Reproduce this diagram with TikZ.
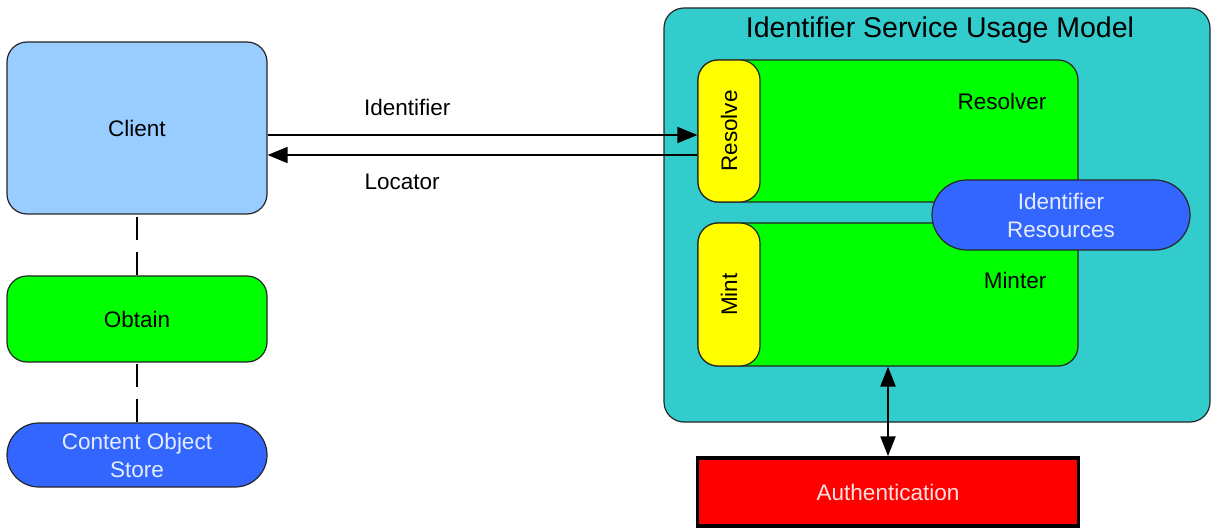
\documentclass[tikz,border=0pt]{standalone}
\usepackage{fontspec}
\setmainfont{Liberation Sans}
\usepackage{graphicx}
\usepackage{tikz}
\usetikzlibrary{arrows.meta}

\definecolor{clientblue}{RGB}{153,204,255}
\definecolor{boxgreen}{RGB}{0,255,0}
\definecolor{tabyellow}{RGB}{255,255,0}
\definecolor{storeblue}{RGB}{51,102,255}
\definecolor{modelteal}{RGB}{51,204,204}
\definecolor{authred}{RGB}{255,0,0}
\definecolor{lighttext}{RGB}{228,236,255}
\definecolor{authtext}{RGB}{255,225,225}

\begin{document}
\begin{tikzpicture}[x=1pt,y=-1pt,
    box/.style={draw=black!85, line width=1.2pt, rounded corners=20pt, inner sep=0pt,
      align=center, font=\fontsize{22.5}{28}\selectfont},
    pill/.style={box, fill=storeblue, text=lighttext},
    arr/.style={line width=1.8pt, -{Triangle[length=20pt,width=16pt]}},
    twoarr/.style={line width=2.4pt, {Triangle[length=20pt,width=15pt]}-{Triangle[length=20pt,width=15pt]}},
    link/.style={line width=2.6pt, dash pattern=on 23pt off 12pt}]

    \useasboundingbox (0,0) rectangle (1212,529);

    % draw left column
    \node[box, fill=clientblue, minimum width=260pt, minimum height=172pt] (client) at (137,128) {Client};
    \node[box, fill=boxgreen, minimum width=260pt, minimum height=86pt] (obtain) at (137,319) {Obtain};
    \node[pill, rounded corners=32pt, minimum width=260pt, minimum height=64pt] (store) at (137,455) {Content Object\\Store};

    % draw service model
    \node[box, fill=modelteal, minimum width=546pt, minimum height=414pt] (model) at (937,215) {};
    \node[font=\fontsize{28.5}{32}\selectfont] (title) at (940,30) {Identifier Service Usage Model};

    \node[box, fill=boxgreen, minimum width=380pt, minimum height=142pt] (resolver) at (888,131) {};
    \node[font=\fontsize{22.5}{28}\selectfont] (resolverlabel) at (1002,101) {Resolver};
    \node[box, fill=tabyellow, minimum width=62pt, minimum height=142pt] (resolve) at (729,131) {\rotatebox{90}{Resolve}};

    \node[box, fill=boxgreen, minimum width=380pt, minimum height=143pt] (minter) at (888,294.5) {};
    \node[font=\fontsize{22.5}{28}\selectfont] (minterlabel) at (1015,280) {Minter};
    \node[box, fill=tabyellow, minimum width=62pt, minimum height=143pt] (mint) at (729,294.5) {\rotatebox{90}{Mint}};

    \node[pill, rounded corners=35pt, minimum width=258pt, minimum height=70pt] (resources) at (1061,215) {Identifier\\Resources};

    \node[box, rounded corners=0pt, fill=authred, text=authtext, line width=3.5pt, draw=black,
      minimum width=381pt, minimum height=68pt] (auth) at (888,492) {Authentication};

    % draw connectors
    \draw[arr] ([yshift=-7pt]client.east) -- ([yshift=-7pt]client.east -| resolve.west)
      node[pos=0.325, above=15pt, font=\fontsize{22.5}{28}\selectfont] (idlabel) {Identifier};
    \draw[arr] ([yshift=-27pt]client.east -| resolve.west) -- ([yshift=-27pt]client.east)
      node[pos=0.687, below=15pt, font=\fontsize{22.5}{28}\selectfont] (loclabel) {Locator};
    \draw[twoarr] (minter.south) -- (auth.north);

    \draw[link] (store.north) -- (obtain.south);
    \draw[link] (obtain.north) -- (client.south);

\end{tikzpicture}
\end{document}
